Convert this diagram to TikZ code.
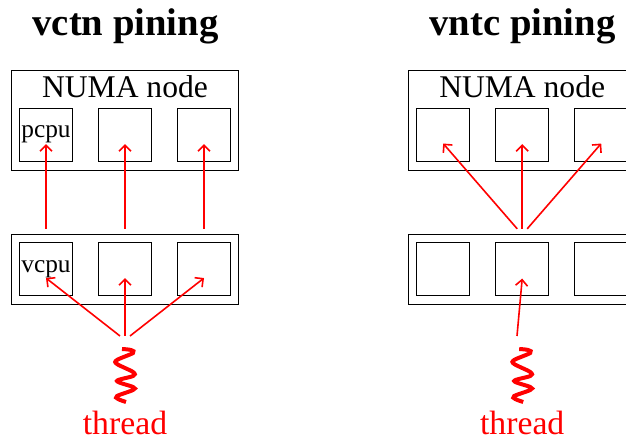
\documentclass[tikz,border=0pt]{standalone}
\usepackage{fontspec}
\setmainfont{Liberation Serif}
\usetikzlibrary{arrows.meta,positioning}
\tikzset{
  numabox/.style={draw, line width=0.7pt, minimum width=170.25pt, minimum height=74.6pt, inner sep=0pt},
  vmbox/.style={draw, line width=0.7pt, minimum width=170.25pt, minimum height=52.9pt, inner sep=0pt},
  cpubox/.style={draw, line width=0.7pt, minimum size=39.75pt, inner sep=0pt},
  title/.style={anchor=base, font=\fontsize{29}{30}\selectfont\bfseries, inner sep=0pt},
  numatext/.style={anchor=base, font=\fontsize{23.7}{26}\selectfont, inner sep=0pt},
  cputext/.style={anchor=base, font=\fontsize{19}{21}\selectfont, inner sep=0pt},
  threadtext/.style={anchor=base, text=red, font=\fontsize{25.3}{28}\selectfont, inner sep=0pt},
  pin/.style={draw=red, line width=1.2pt, -{Straight Barb[length=4.5pt,width=9pt]}},
  wiggle/.pic={
    \draw[red, line width=3pt, line cap=butt] plot[smooth, tension=0.55] coordinates
      {(-3,0) (6,1) (8,4) (-8,11) (-8,15) (8,23) (8,27) (-8,32) (8,38) (8,41) (-8,47) (-7,50) (1,53)};
  }
}
\begin{document}
\begin{tikzpicture}[x=0.75pt, y=-0.75pt]
  \useasboundingbox (0,0) rectangle (626,438);
  % Left side
  \node[title] (ltitle) at (125.5,36) {vctn pining};
  \node[numabox] (lnuma) at (125,120.25) {};
  \node[numatext] (lnumatext) at ([yshift=-20.6pt]lnuma.north) {NUMA node};
  \node[cpubox] (lp2) at (125,134.75) {};
  \node[cpubox, left=18.8pt of lp2] (lp1) {};
  \node[cpubox, right=18.8pt of lp2] (lp3) {};
  \node[cputext] (lpcpu) at ([yshift=-2.4pt]lp1.center) {pcpu};
  \node[vmbox] (lvm) at (125,269.25) {};
  \node[cpubox] (lv2) at (125,269.25) {};
  \node[cpubox, left=18.8pt of lv2] (lv1) {};
  \node[cpubox, right=18.8pt of lv2] (lv3) {};
  \node[cputext] (lvcpu) at ([yshift=-2.1pt]lv1.center) {vcpu};
  \pic at (125,349) {wiggle};
  \coordinate (lw) at (125,336);
  \node[threadtext] (lthread) at (125,434.5) {thread};
  % Right side
  \node[title] (rtitle) at (522.5,36) {vntc pining};
  \node[numabox] (rnuma) at (522.2,120.25) {};
  \node[numatext] (rnumatext) at ([yshift=-20.6pt]rnuma.north) {NUMA node};
  \node[cpubox] (rp2) at (522.2,134.75) {};
  \node[cpubox, left=18.8pt of rp2] (rp1) {};
  \node[cpubox, right=18.8pt of rp2] (rp3) {};
  \node[vmbox] (rvm) at (522.2,269.25) {};
  \node[cpubox] (rv2) at (522.2,269.25) {};
  \node[cpubox, left=18.8pt of rv2] (rv1) {};
  \node[cpubox, right=18.8pt of rv2] (rv3) {};
  \pic at (522.2,349) {wiggle};
  \coordinate (rw) at (517,336);
  \node[threadtext] (rthread) at (522.2,434.5) {thread};
  % Arrows
  \draw[pin] ([yshift=10.1pt]lv1.north) -- ([yshift=-7pt]lp1.center);
  \draw[pin] ([yshift=10.1pt]lv2.north) -- ([yshift=-7pt]lp2.center);
  \draw[pin] ([yshift=10.1pt]lv3.north) -- ([yshift=-7pt]lp3.center);
  \draw[pin] ([xshift=-3.75pt]lw) -- ([yshift=-6.6pt]lv1.center);
  \draw[pin] (lw) -- ([yshift=-6.6pt]lv2.center);
  \draw[pin] ([xshift=3.75pt]lw) -- ([yshift=-6.6pt]lv3.center);
  \draw[pin] ([xshift=-3.75pt,yshift=10.1pt]rv2.north) -- ([yshift=-6.6pt]rp1.center);
  \draw[pin] ([yshift=10.1pt]rv2.north) -- ([yshift=-7pt]rp2.center);
  \draw[pin] ([xshift=3.75pt,yshift=10.1pt]rv2.north) -- ([yshift=-6.6pt]rp3.center);
  \draw[pin] (rw) -- ([yshift=-7pt]rv2.center);
\end{tikzpicture}
\end{document}
